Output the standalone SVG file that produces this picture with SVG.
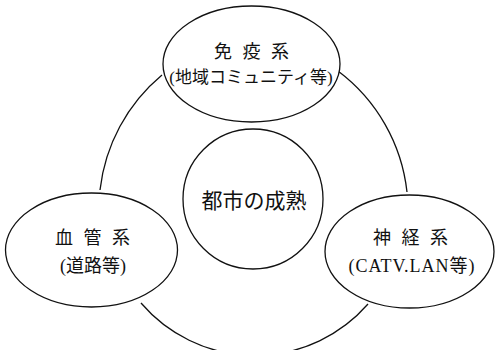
<svg xmlns="http://www.w3.org/2000/svg" width="495" height="350" viewBox="0 0 495 350">
<style>
.n{fill:#fff;stroke:#111;stroke-width:1.3}
.c{fill:none;stroke:#111;stroke-width:1.3}
text{font-family:"Liberation Serif","Noto Sans CJK JP",serif;fill:#111;text-anchor:middle}
</style>
<rect width="495" height="350" fill="#fff"/>
<g id="connectors">
<path class="c" d="M162,75 A175,175 0 0 0 100,190"/>
<path class="c" d="M338,71 A175,175 0 0 1 407,192"/>
<path class="c" d="M141,303 A150,150 0 0 0 368,304"/>
</g>
<g id="immune">
<ellipse class="n" cx="251.5" cy="64" rx="88.5" ry="58"/>
<text x="253" y="58" font-size="18" letter-spacing="3" xml:space="preserve">免 疫 系</text>
<text x="251" y="83" font-size="17">(地域コミュニティ等)</text>
</g>
<g id="vascular">
<ellipse class="n" cx="91.5" cy="250" rx="86" ry="57"/>
<text x="94" y="244" font-size="18" letter-spacing="3" xml:space="preserve">血 管 系</text>
<text x="93" y="272" font-size="18">(道路等)</text>
</g>
<g id="nervous">
<ellipse class="n" cx="409.5" cy="251.5" rx="84.5" ry="56.5"/>
<text x="412" y="244" font-size="18" letter-spacing="3" xml:space="preserve">神 経 系</text>
<text x="412" y="272" font-size="18" letter-spacing="1">(CATV.LAN等)</text>
</g>
<g id="center">
<circle class="n" cx="253" cy="199" r="70"/>
<text x="254" y="208" font-size="21">都市の成熟</text>
</g>
</svg>
